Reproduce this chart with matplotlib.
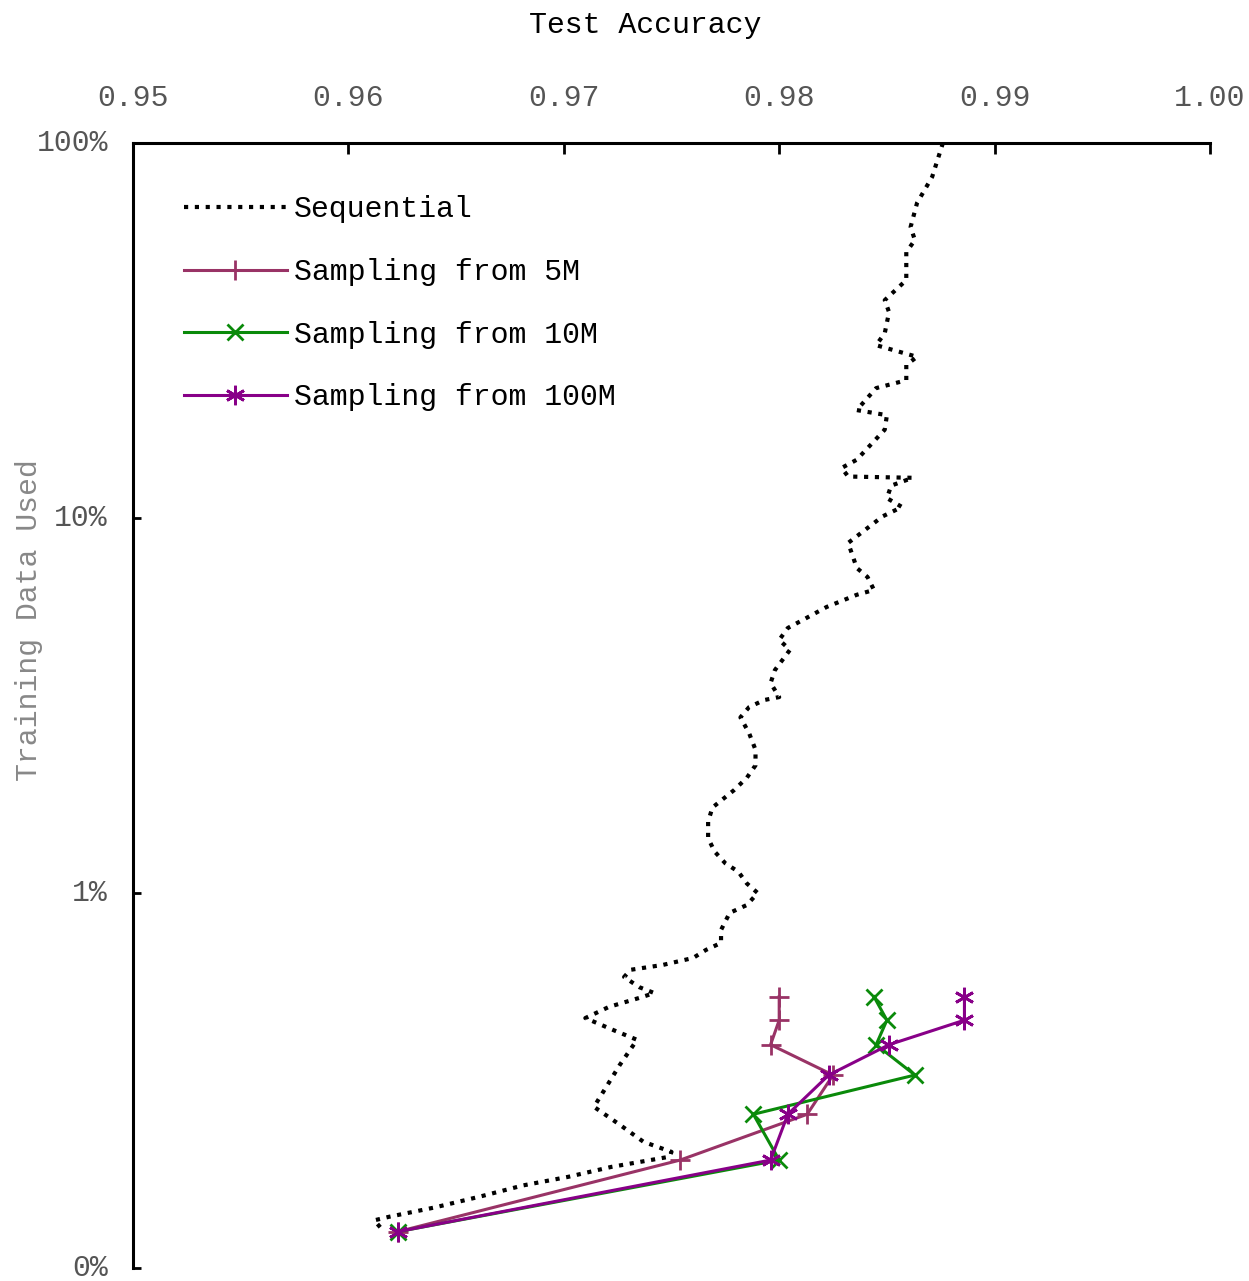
import numpy as np
import matplotlib.pyplot as plt
from matplotlib import transforms
from matplotlib.ticker import FixedLocator, FixedFormatter

### ============= ###  Dados  ### ============= ###

# Sequential: test accuracy vs fraction of training data used (%)
seq_acc = [
    0.9876, 0.9871, 0.9864, 0.9861, 0.9863, 0.9859, 0.9859, 0.9849, 0.9851,
    0.9849, 0.9845, 0.9864, 0.9859, 0.9859, 0.9845, 0.9836, 0.9850, 0.9849,
    0.9836, 0.9829, 0.9832, 0.9862, 0.9852, 0.9850, 0.9857, 0.9848, 0.9838,
    0.9832, 0.9834, 0.9836, 0.9841, 0.9844, 0.9836, 0.9822, 0.9810, 0.9804,
    0.9800, 0.9805, 0.9798, 0.9796, 0.9800, 0.9793, 0.9786, 0.9782, 0.9786,
    0.9789, 0.9789, 0.9785, 0.9779, 0.9769, 0.9767, 0.9767, 0.9770, 0.9775,
    0.9781, 0.9785, 0.9790, 0.9785, 0.9777, 0.9773, 0.9773, 0.9766, 0.9760,
    0.9746, 0.9731, 0.9728, 0.9735, 0.9742, 0.9735, 0.9721, 0.9710, 0.9723,
    0.9734, 0.9726, 0.9718, 0.9714, 0.9726, 0.9737, 0.9750, 0.9749, 0.9722,
    0.9702, 0.9681, 0.9661, 0.9640, 0.9619, 0.9612, 0.9615,
]
seq_pct = [
    100.0, 81.2, 69.2, 59.7, 55.1, 51.2, 43.1, 38.1, 35.4,
    31.1, 28.9, 26.9, 25.6, 23.3, 22.2, 19.4, 18.8, 17.2,
    14.3, 13.6, 12.9, 12.8, 12.2, 11.3, 10.7, 10.1, 9.12,
    8.58, 7.96, 7.36, 6.96, 6.43, 6.24, 5.79, 5.31, 5.09,
    4.73, 4.45, 3.93, 3.63, 3.33, 3.27, 3.13, 2.94, 2.67,
    2.41, 2.19, 2.03, 1.88, 1.69, 1.55, 1.40, 1.29, 1.20,
    1.14, 1.06, 1.00, 0.929, 0.885, 0.797, 0.736, 0.705, 0.671,
    0.643, 0.624, 0.597, 0.561, 0.541, 0.525, 0.497, 0.464, 0.431,
    0.406, 0.348, 0.293, 0.269, 0.241, 0.217, 0.204, 0.198, 0.186,
    0.175, 0.166, 0.155, 0.145, 0.137, 0.134, 0.128,
]

# Sampling runs share the same data fractions
samp_pct = [0.125, 0.194, 0.257, 0.327, 0.394, 0.458, 0.529]
samp_5m = [0.9623, 0.9754, 0.9813, 0.9825, 0.9796, 0.9800, 0.9800]
samp_10m = [0.9623, 0.9800, 0.9788, 0.9863, 0.9845, 0.9850, 0.9844]
samp_100m = [0.9623, 0.9796, 0.9804, 0.9823, 0.9851, 0.9886, 0.9886]

x_ticks = [0.95, 0.96, 0.97, 0.98, 0.99, 1.00]
y_ticks = [0.1, 1, 10, 100]
y_tick_labels = ["0%", "1%", "10%", "100%"]

### ============= ###  Figura  ### ============= ###

FONTE = "Liberation Mono"
TAM = 21.5
plt.rcParams["font.family"] = [FONTE, "DejaVu Sans Mono"]

fig = plt.figure(figsize=(12.49, 12.81), dpi=100)
ax = fig.add_axes([133 / 1249, 13 / 1281, 1077 / 1249, 1125 / 1281])

ax.plot(seq_acc, seq_pct, color="black", lw=3, ls=(0, (1, 1.6)),
        label="Sequential", clip_on=False, zorder=2)
ax.plot(samp_5m, samp_pct, color="#993366", lw=2.2, marker="+", ms=14, mew=2,
        label="Sampling from 5M", zorder=3)
ax.plot(samp_10m, samp_pct, color="#0a8a0a", lw=2.2, marker="x", ms=12, mew=2,
        label="Sampling from 10M", zorder=3)
ax.plot(samp_100m, samp_pct, color="#880088", lw=2.2, marker=(6, 2, 0), ms=14,
        mew=2, label="Sampling from 100M", zorder=4)

ax.set_yscale("log")
ax.set_xlim(0.95, 1.00)
ax.set_ylim(0.1, 100)

# eixos no estilo gnuplot: apenas esquerda e topo
for lado in ["right", "bottom"]:
    ax.spines[lado].set_visible(False)
for lado in ["left", "top"]:
    ax.spines[lado].set_linewidth(2.2)

ax.xaxis.set_ticks_position("top")
ax.xaxis.set_label_position("top")
ax.set_xticks(x_ticks)
ax.set_xticklabels([f"{v:.2f}" for v in x_ticks])
ax.yaxis.set_major_locator(FixedLocator(y_ticks))
ax.yaxis.set_major_formatter(FixedFormatter(y_tick_labels))
ax.yaxis.set_minor_locator(FixedLocator([]))

ax.tick_params(axis="x", direction="in", length=8, width=2, pad=22.5,
               labelsize=TAM, labelcolor="#555555")
ax.tick_params(axis="y", direction="in", length=6, width=2, pad=18,
               labelsize=TAM, labelcolor="#555555")

# rotulos do eixo y ligeiramente acima da marca, como no original
desloc = transforms.ScaledTranslation(0, 3 / 100, fig.dpi_scale_trans)
for rot in ax.get_yticklabels():
    rot.set_transform(rot.get_transform() + desloc)

ax.set_xlabel("Test Accuracy", fontsize=TAM, color="black")
ax.xaxis.set_label_coords(0.476, 1.098)
ax.set_ylabel("Training Data Used", fontsize=TAM, color="#888888")
ax.yaxis.set_label_coords(-0.084, 0.576)

leg = ax.legend(loc="upper left", bbox_to_anchor=(0.036, 0.964),
                frameon=False, fontsize=TAM, handlelength=3.45,
                handletextpad=0.25, labelspacing=1.16, borderaxespad=0)

fig.savefig("out.png", dpi=100)
